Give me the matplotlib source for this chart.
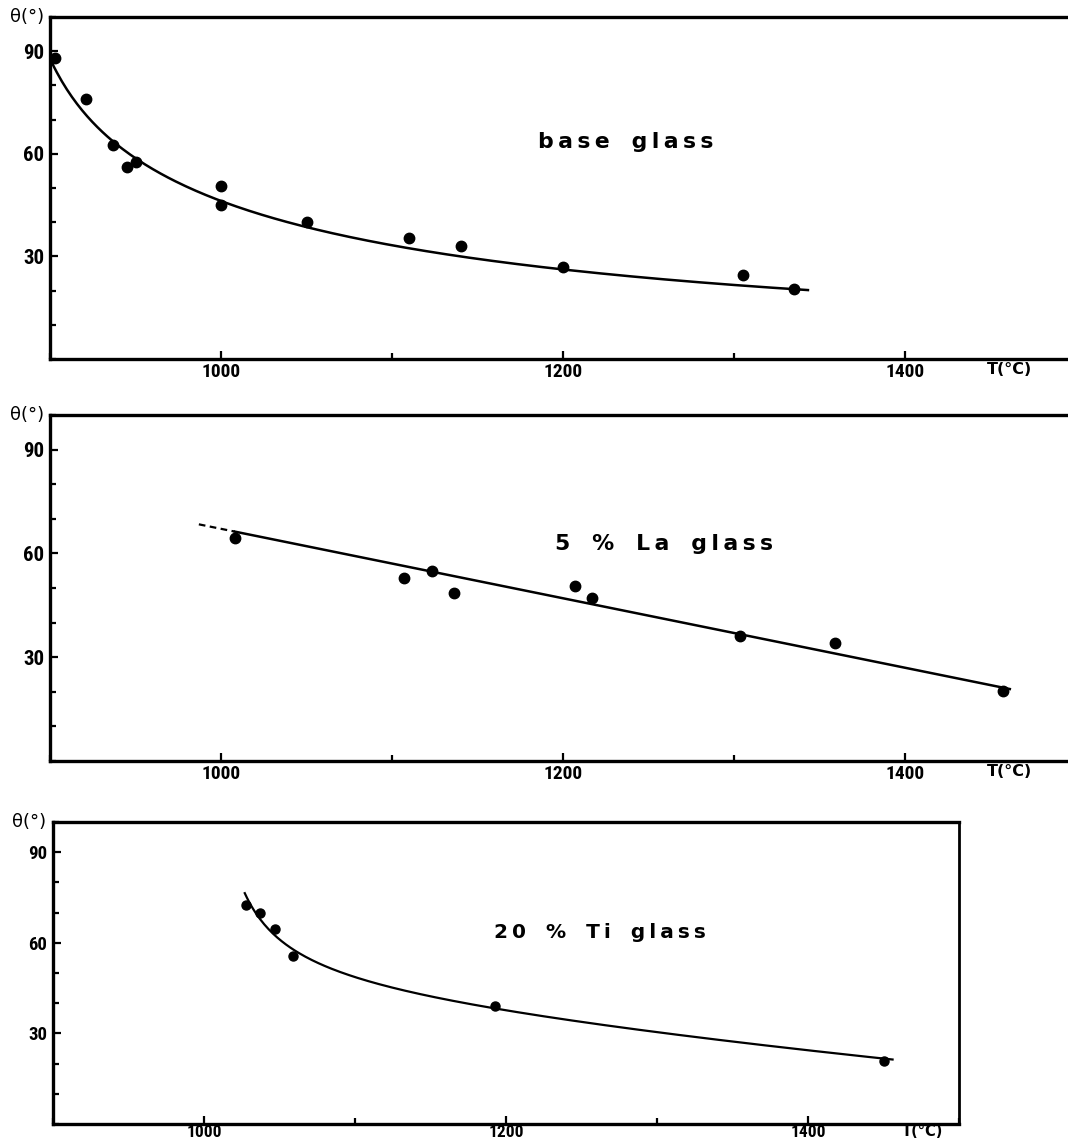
import numpy as np
import matplotlib
matplotlib.use("Agg")
import matplotlib.pyplot as plt
from matplotlib.ticker import MultipleLocator
from matplotlib import font_manager

# ---- measured contact angles ----
base_T = [903, 921, 937, 945, 950, 1000, 1000, 1050, 1110, 1140, 1200, 1305, 1335]
base_theta = [88, 76, 62.5, 56, 57.5, 50.5, 45, 40, 35.5, 33, 27, 24.5, 20.5]

la_T = [1008, 1107, 1123, 1136, 1207, 1217, 1303, 1359, 1457]
la_theta = [64.5, 53, 55, 48.5, 50.5, 47, 36, 34, 20.2]

ti_T = [1028, 1037, 1047, 1059, 1193, 1450]
ti_theta = [72.5, 70, 64.5, 55.5, 39, 21]

# ---- trend curves (points along the hand-drawn fits) ----
base_fit_T = [901, 919, 948, 998, 1045, 1080, 1200, 1343]
base_fit_theta = [86.6, 73, 59.4, 46.3, 38.6, 35, 27.7, 19.4]

la_fit_T = [987, 1008, 1461]
la_fit_theta = [68.4, 66.3, 20.8]

ti_fit_T = [1027, 1047, 1064, 1072, 1108, 1152, 1193, 1262, 1328, 1456]
ti_fit_theta = [76, 63.5, 56.7, 53.7, 46.7, 41, 38.7, 33.7, 29.3, 20.7]

x_major = [1000, 1200, 1400]
x_labels = ["1000", "1200", "1400"]
y_major = [30, 60, 90]
y_labels = ["30", "60", "90"]
labels = ["base glass", "5 % La glass", "20 % Ti glass"]

avail = {f.name for f in font_manager.fontManager.ttflist}
narrow = next((f for f in ["Liberation Sans Narrow", "DejaVu Sans Condensed",
                           "Roboto Condensed", "Open Sans Condensed", "Roboto"]
               if f in avail), "DejaVu Sans")

W, H = 1068, 1141
fig = plt.figure(figsize=(W / 100, H / 100), dpi=100)


def frac(left, top, right, bottom):
    return [left / W, 1 - bottom / H, (right - left) / W, (bottom - top) / H]


def spaced(s):
    # open letter spacing of the panel titles
    return "\u2009".join(s.replace(" ", "\u2009\u2009"))


def smooth_fit(T, th, shift, deg=3):
    u = np.log(np.asarray(T, float) - shift)
    coef = np.polyfit(u, th, deg)
    tt = np.linspace(T[0], T[-1], 300)
    return tt, np.polyval(coef, np.log(tt - shift))


def style_axes(ax, xmax, right_spine, ysize, xsize, ylab_x, xpad):
    ax.set_xlim(900, xmax)
    ax.set_ylim(0, 100)
    for s in ["left", "bottom", "top"]:
        ax.spines[s].set_linewidth(2.4)
    ax.spines["right"].set_visible(right_spine)
    ax.spines["right"].set_linewidth(2.0)
    tick_font = dict(family=narrow, fontweight="bold")
    ax.set_xticks(x_major, labels=x_labels, fontsize=xsize, **tick_font)
    ax.set_yticks(y_major, labels=y_labels, fontsize=ysize, **tick_font)
    ax.xaxis.set_minor_locator(MultipleLocator(100))
    ax.yaxis.set_minor_locator(MultipleLocator(10))
    ax.tick_params(which="both", direction="in", width=1.6)
    ax.tick_params(which="major", length=6)
    ax.tick_params(which="minor", length=4)
    ax.tick_params(axis="y", pad=4)
    ax.tick_params(axis="x", pad=xpad)
    ax.text(ylab_x, 1.0, "θ(°)", transform=ax.transAxes, ha="center",
            va="center", fontsize=13, family="DejaVu Sans")


def title_px(x, y, s, size):
    fig.text(x / W, 1 - y / H, spaced(s), ha="center", va="center",
             fontsize=size, fontweight="bold", family="DejaVu Sans")


# base glass
ax1 = fig.add_axes(frac(50, 17, 1068, 359))
tt, yy = smooth_fit(base_fit_T, base_fit_theta, 885)
ax1.plot(tt, yy, color="black", lw=1.8)
ax1.plot(base_T, base_theta, "o", color="black", ms=7.5)
style_axes(ax1, 1495, False, 15, 14, -0.0226, 3)
ax1.text(1461, -0.03, "T(°C)", transform=ax1.get_xaxis_transform(),
         ha="center", va="center", fontsize=11.5, fontweight="bold", family="DejaVu Sans")

# 5 % La glass
ax2 = fig.add_axes(frac(50, 415, 1068, 761))
ax2.plot(la_fit_T[:2], la_fit_theta[:2], color="black", lw=1.6, ls=(0, (3, 2)))
ax2.plot(la_fit_T[1:], la_fit_theta[1:], color="black", lw=1.8)
ax2.plot(la_T, la_theta, "o", color="black", ms=7.5)
style_axes(ax2, 1495, False, 15, 14, -0.0226, 3)
ax2.text(1461, -0.03, "T(°C)", transform=ax2.get_xaxis_transform(),
         ha="center", va="center", fontsize=11.5, fontweight="bold", family="DejaVu Sans")

# 20 % Ti glass
ax3 = fig.add_axes(frac(53, 822, 959, 1124))
tt, yy = smooth_fit(ti_fit_T, ti_fit_theta, 1000)
ax3.plot(tt, yy, color="black", lw=1.6)
ax3.plot(ti_T, ti_theta, "o", color="black", ms=6.5)
style_axes(ax3, 1500, True, 13.5, 12.5, -0.026, 1)
ax3.text(1476, -0.025, "T(°C)", transform=ax3.get_xaxis_transform(),
         ha="center", va="center", fontsize=10.5, fontweight="bold", family="DejaVu Sans")

title_px(626, 142, labels[0], 15.8)
title_px(664, 544, labels[1], 15.8)
title_px(600, 933, labels[2], 14.5)

fig.savefig("out.png", dpi=100)
